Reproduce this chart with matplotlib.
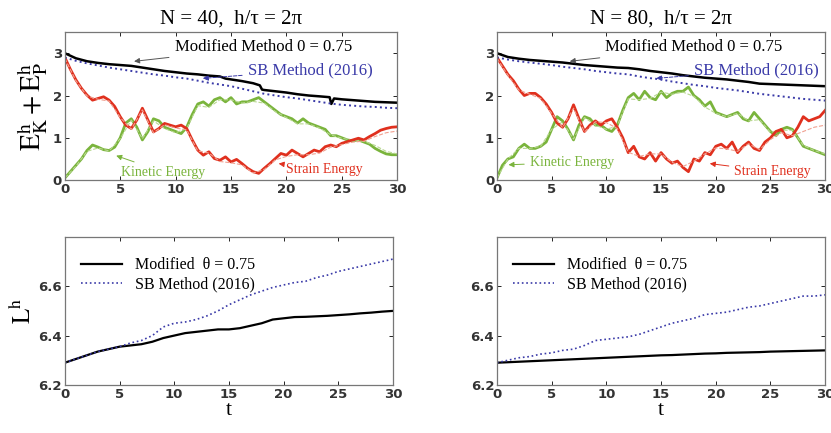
import numpy as np
import matplotlib
matplotlib.use("Agg")
import matplotlib.pyplot as plt

plt.rcParams["mathtext.fontset"] = "stix"

# time grids
t_half = np.arange(0, 30.01, 0.5)
t_int = np.arange(0, 31)

# ---- N = 40 ----
strain_40 = [2.90, 2.62, 2.37, 2.17, 2.01, 1.89, 1.93, 1.97, 1.89, 1.74, 1.50, 1.30, 1.22, 1.42, 1.70, 1.42,
             1.14, 1.22, 1.34, 1.30, 1.26, 1.30, 1.22, 0.95, 0.71, 0.59, 0.67, 0.51, 0.47, 0.55, 0.43, 0.49,
             0.39, 0.28, 0.20, 0.16, 0.28, 0.39, 0.51, 0.63, 0.59, 0.71, 0.63, 0.55, 0.63, 0.71, 0.67, 0.79,
             0.83, 0.79, 0.87, 0.91, 0.95, 0.99, 0.95, 1.03, 1.10, 1.18, 1.22, 1.25, 1.26]
kinetic_40 = [0.05, 0.20, 0.35, 0.50, 0.70, 0.83, 0.78, 0.72, 0.70, 0.78, 1.00, 1.35, 1.45, 1.25, 0.95, 1.15,
              1.45, 1.40, 1.25, 1.20, 1.15, 1.10, 1.25, 1.55, 1.80, 1.85, 1.75, 1.90, 1.95, 1.85, 1.95, 1.80,
              1.85, 1.85, 1.90, 1.95, 1.85, 1.75, 1.65, 1.55, 1.50, 1.45, 1.35, 1.45, 1.35, 1.30, 1.25, 1.20,
              1.05, 1.05, 1.00, 0.95, 0.93, 0.95, 0.90, 0.85, 0.75, 0.68, 0.62, 0.60, 0.60]
strain_sb_40 = [2.88, 2.35, 1.99, 1.91, 1.87, 1.48, 1.20, 1.66, 1.12, 1.31, 1.23, 1.19, 0.69, 0.64, 0.44, 0.41,
                0.36, 0.17, 0.25, 0.48, 0.56, 0.60, 0.60, 0.64, 0.78, 0.84, 0.90, 0.92, 1.03, 1.12, 1.16]
kinetic_sb_40 = [0.05, 0.33, 0.68, 0.76, 0.69, 0.98, 1.42, 0.98, 1.40, 1.22, 1.12, 1.22, 1.76, 1.72, 1.90, 1.90,
                 1.82, 1.86, 1.82, 1.62, 1.48, 1.33, 1.33, 1.23, 1.07, 0.99, 0.94, 0.92, 0.82, 0.68, 0.62]
t_mod_40 = [0, 1, 2, 3, 4, 5, 6, 7, 8, 9, 10, 11, 12, 13, 14, 14.5, 15, 16, 17, 17.6, 17.8, 18, 19, 20, 21, 22,
            23, 23.9, 24.05, 24.3, 25, 26, 27, 28, 29, 30]
total_mod_40 = [3.00, 2.88, 2.81, 2.77, 2.74, 2.72, 2.70, 2.66, 2.62, 2.58, 2.55, 2.52, 2.50, 2.47, 2.45, 2.40,
                2.38, 2.34, 2.29, 2.24, 2.14, 2.13, 2.10, 2.07, 2.03, 2.00, 1.98, 1.96, 1.80, 1.93, 1.91, 1.89,
                1.87, 1.85, 1.84, 1.83]
total_sb_40 = [2.90, 2.82, 2.76, 2.71, 2.66, 2.62, 2.58, 2.54, 2.50, 2.47, 2.43, 2.40, 2.35, 2.30, 2.26, 2.22,
               2.16, 2.10, 2.04, 2.00, 1.96, 1.93, 1.89, 1.85, 1.81, 1.78, 1.76, 1.74, 1.73, 1.71, 1.70]
L_mod_40 = [6.29, 6.305, 6.32, 6.335, 6.345, 6.355, 6.36, 6.365, 6.375, 6.39, 6.40, 6.41, 6.415, 6.42, 6.425,
            6.425, 6.43, 6.44, 6.45, 6.465, 6.47, 6.475, 6.476, 6.478, 6.48, 6.483, 6.486, 6.49, 6.493, 6.497, 6.50]
L_sb_40 = [6.29, 6.305, 6.32, 6.335, 6.345, 6.355, 6.37, 6.38, 6.40, 6.435, 6.45, 6.455, 6.465, 6.48, 6.50,
           6.525, 6.545, 6.565, 6.58, 6.595, 6.605, 6.615, 6.62, 6.635, 6.645, 6.66, 6.67, 6.68, 6.69, 6.70, 6.71]

# ---- N = 80 ----
strain_80 = [2.90, 2.70, 2.50, 2.35, 2.15, 2.00, 2.05, 2.05, 1.95, 1.80, 1.60, 1.35, 1.25, 1.45, 1.78, 1.45,
             1.15, 1.30, 1.40, 1.30, 1.40, 1.45, 1.25, 1.00, 0.65, 0.80, 0.55, 0.50, 0.65, 0.45, 0.65, 0.50,
             0.40, 0.45, 0.30, 0.20, 0.50, 0.45, 0.65, 0.60, 0.80, 0.85, 0.75, 0.90, 0.65, 0.80, 0.90, 0.75,
             0.70, 0.90, 1.00, 1.15, 1.20, 1.00, 1.05, 1.25, 1.50, 1.40, 1.45, 1.50, 1.65]
kinetic_80 = [0.05, 0.35, 0.50, 0.55, 0.75, 0.85, 0.75, 0.75, 0.80, 0.90, 1.20, 1.50, 1.40, 1.20, 0.95, 1.30,
              1.50, 1.45, 1.30, 1.30, 1.20, 1.15, 1.30, 1.65, 1.95, 2.05, 1.90, 2.10, 1.95, 1.90, 2.10, 1.95,
              2.05, 2.10, 2.10, 2.20, 2.00, 1.90, 1.75, 1.85, 1.60, 1.55, 1.50, 1.55, 1.60, 1.45, 1.40, 1.60,
              1.45, 1.30, 1.15, 1.05, 1.20, 1.25, 1.20, 1.00, 0.80, 0.75, 0.70, 0.65, 0.60]
strain_sb_80 = [2.88, 2.48, 2.13, 2.03, 1.93, 1.58, 1.24, 1.70, 1.14, 1.38, 1.36, 1.22, 0.66, 0.56, 0.62, 0.62,
                0.42, 0.32, 0.45, 0.62, 0.76, 0.74, 0.68, 0.86, 0.72, 0.96, 1.12, 1.05, 1.15, 1.25, 1.30]
kinetic_sb_80 = [0.05, 0.50, 0.75, 0.75, 0.80, 1.20, 1.38, 0.97, 1.48, 1.30, 1.20, 1.28, 1.92, 1.90, 1.93, 2.08,
                 2.03, 2.08, 1.98, 1.73, 1.58, 1.50, 1.58, 1.40, 1.43, 1.13, 1.18, 1.18, 0.82, 0.70, 0.62]
total_mod_80 = [3.00, 2.91, 2.87, 2.84, 2.82, 2.80, 2.78, 2.75, 2.72, 2.70, 2.68, 2.66, 2.65, 2.62, 2.58, 2.55,
                2.52, 2.48, 2.45, 2.42, 2.40, 2.38, 2.35, 2.32, 2.28, 2.27, 2.26, 2.25, 2.24, 2.23, 2.22]
total_sb_80 = [2.90, 2.85, 2.81, 2.78, 2.75, 2.72, 2.68, 2.65, 2.62, 2.58, 2.55, 2.52, 2.50, 2.45, 2.41, 2.38,
               2.33, 2.29, 2.25, 2.22, 2.18, 2.15, 2.12, 2.08, 2.04, 2.01, 1.98, 1.95, 1.92, 1.90, 1.88]
L_mod_80 = [6.29, 6.292, 6.294, 6.296, 6.298, 6.30, 6.302, 6.304, 6.306, 6.308, 6.31, 6.312, 6.314, 6.316, 6.318,
            6.32, 6.321, 6.323, 6.325, 6.327, 6.328, 6.33, 6.331, 6.332, 6.333, 6.335, 6.336, 6.337, 6.338, 6.339,
            6.34]
L_sb_80 = [6.29, 6.30, 6.31, 6.315, 6.325, 6.33, 6.34, 6.345, 6.36, 6.38, 6.385, 6.39, 6.395, 6.405, 6.42, 6.435,
           6.45, 6.46, 6.47, 6.485, 6.49, 6.495, 6.505, 6.515, 6.52, 6.53, 6.54, 6.55, 6.56, 6.56, 6.565]

titles = ["N = 40,  h/\u03c4 = 2\u03c0", "N = 80,  h/\u03c4 = 2\u03c0"]

RED = "#e0301e"
GREEN = "#7ab43c"
BLUE = "#3a3aa8"
SERIF = "Liberation Serif"


def style_axes(ax, xticks, yticks):
    ax.set_xlim(0, 30)
    ax.set_xticks(xticks)
    ax.set_yticks(yticks)
    ax.tick_params(direction="in", top=True, right=True, length=3, width=0.6, pad=2)
    for lab in ax.get_xticklabels() + ax.get_yticklabels():
        lab.set_fontweight("bold")
        lab.set_fontsize(9.5)
        lab.set_color("#333333")
    for s in ax.spines.values():
        s.set_color("#777777")
        s.set_linewidth(0.9)


def energy_panel(ax, strain, kinetic, strain_sb, kinetic_sb, t_mod, tot_mod, tot_sb, ann):
    ax.plot(t_half, kinetic, color=GREEN, lw=2.0)
    ax.plot(t_int, kinetic_sb, color="#b8d890", lw=0.8, ls="--")
    ax.plot(t_half, strain, color=RED, lw=2.0)
    ax.plot(t_int, strain_sb, color="#f0a090", lw=0.8, ls="--")
    ax.plot(t_mod, tot_mod, color="black", lw=1.8)
    ax.plot(t_int, tot_sb, color=BLUE, lw=1.4, ls=":")
    ax.set_ylim(0, 3.5)
    style_axes(ax, [0, 5, 10, 15, 20, 25, 30], [0, 1, 2, 3])

    fs = 12
    ax.annotate("Modified Method 0 = 0.75", xy=ann["mod"][0], xytext=ann["mod"][1],
                fontsize=fs, family=SERIF, va="center", color="black",
                arrowprops=dict(arrowstyle="-|>", color="#555555", lw=0.7, mutation_scale=8))
    ax.annotate("SB Method (2016)", xy=ann["sb"][0], xytext=ann["sb"][1],
                fontsize=fs, family=SERIF, va="center", color=BLUE,
                arrowprops=dict(arrowstyle="-|>", color=BLUE, lw=0.7, ls="--", mutation_scale=8))
    ax.annotate("Kinetic Energy", xy=ann["kin"][0], xytext=ann["kin"][1],
                fontsize=10, family=SERIF, va="center", color=GREEN,
                arrowprops=dict(arrowstyle="-|>", color=GREEN, lw=0.7, mutation_scale=8))
    ax.annotate("Strain Energy", xy=ann["str"][0], xytext=ann["str"][1],
                fontsize=10, family=SERIF, va="center", color=RED,
                arrowprops=dict(arrowstyle="-|>", color=RED, lw=0.7, mutation_scale=8))


def length_panel(ax, L_mod, L_sb):
    ax.plot(t_int, L_mod, color="black", lw=1.6, label="Modified  \u03b8 = 0.75")
    ax.plot(t_int, L_sb, color=BLUE, lw=1.2, ls=":", label="SB Method (2016)")
    ax.set_ylim(6.2, 6.8)
    style_axes(ax, [0, 5, 10, 15, 20, 25, 30], [6.2, 6.4, 6.6])
    ax.legend(loc="upper left", frameon=False, prop={"family": SERIF, "size": 11.5},
              handlelength=2.6, borderaxespad=0.6, labelspacing=0.2, bbox_to_anchor=(0.0, 0.97))
    ax.set_xlabel("t", family=SERIF, fontsize=16, labelpad=0)


fig = plt.figure(figsize=(8.31, 4.33), dpi=100)
ax1 = fig.add_axes([0.078, 0.584, 0.400, 0.342])
ax2 = fig.add_axes([0.598, 0.584, 0.395, 0.342])
ax3 = fig.add_axes([0.078, 0.111, 0.395, 0.342])
ax4 = fig.add_axes([0.598, 0.111, 0.395, 0.342])

ann40 = {"mod": ((6.0, 2.8), (9.9, 3.15)), "sb": ((12.2, 2.4), (16.5, 2.6)),
         "kin": ((4.4, 0.6), (5.1, 0.19)), "str": ((19.3, 0.39), (20.0, 0.24))}
ann80 = {"mod": ((6.4, 2.8), (9.9, 3.15)), "sb": ((14.3, 2.4), (18.0, 2.6)),
         "kin": ((0.8, 0.36), (3.0, 0.42)), "str": ((19.2, 0.4), (21.7, 0.2))}

energy_panel(ax1, strain_40, kinetic_40, strain_sb_40, kinetic_sb_40, t_mod_40, total_mod_40, total_sb_40, ann40)
energy_panel(ax2, strain_80, kinetic_80, strain_sb_80, kinetic_sb_80, t_int, total_mod_80, total_sb_80, ann80)
length_panel(ax3, L_mod_40, L_sb_40)
length_panel(ax4, L_mod_80, L_sb_80)

ax1.set_title(titles[0], family=SERIF, fontsize=15, pad=6)
ax2.set_title(titles[1], family=SERIF, fontsize=15, pad=6)
ax1.set_ylabel("$\\mathrm{E}_\\mathrm{K}^\\mathrm{h} + \\mathrm{E}_\\mathrm{P}^\\mathrm{h}$", fontsize=20, labelpad=2)
ax3.set_ylabel("$\\mathrm{L}^\\mathrm{h}$", fontsize=18, labelpad=2)

fig.savefig("out.png", dpi=100)
